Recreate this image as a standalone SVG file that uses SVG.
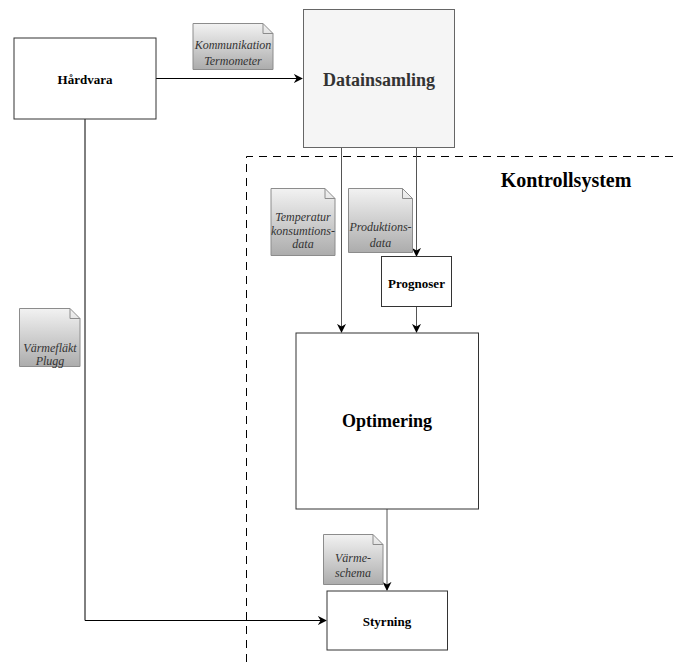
<svg xmlns="http://www.w3.org/2000/svg" width="673" height="664" viewBox="0 0 673 664">
<defs>
<linearGradient id="ng" x1="0" y1="0" x2="0" y2="1">
<stop offset="0" stop-color="#f2f2f2"/>
<stop offset="1" stop-color="#acacac"/>
</linearGradient>
<marker id="arr" viewBox="0 0 10 10" refX="9" refY="5" markerWidth="9" markerHeight="9" markerUnits="userSpaceOnUse" orient="auto">
<path d="M0,0 L10,5 L0,10 L3,5 z" fill="#000"/>
</marker>
<style>
.box{fill:#fff;stroke:#333;stroke-width:1}
.note{fill:url(#ng);stroke:#8c8c8c;stroke-width:1}
.fold{fill:none;stroke:#8c8c8c;stroke-width:1}
.lbl{font-family:"Liberation Serif","Times New Roman",serif;font-weight:bold;fill:#000;text-anchor:middle}
.nt{font-family:"Liberation Serif","Times New Roman",serif;font-style:italic;font-size:12px;fill:#333;text-anchor:middle}
.c{fill:none;stroke:#000;stroke-width:1}
.cg{fill:none;stroke:#555;stroke-width:1}
.dash{fill:none;stroke:#000;stroke-width:1;stroke-dasharray:8 6}
</style>
</defs>
<rect width="673" height="664" fill="#fff"/>
<g id="kontrollsystem">
<path class="dash" d="M673,156.5 H246.5 V664"/>
<text class="lbl" x="566" y="187" font-size="20">Kontrollsystem</text>
</g>
<g id="connectors">
<path class="c" d="M156,78.5 H302" marker-end="url(#arr)"/>
<path class="cg" d="M341.5,147 V332" marker-end="url(#arr)"/>
<path class="cg" d="M416.5,147 V256" marker-end="url(#arr)"/>
<path class="cg" d="M416.5,307 V332" marker-end="url(#arr)"/>
<path class="cg" d="M387,509 V590" marker-end="url(#arr)"/>
<path class="c" d="M85,119 V620.5 H326" marker-end="url(#arr)"/>
</g>
<g id="hardvara">
<rect class="box" x="14" y="38" width="142" height="81"/>
<text class="lbl" x="85" y="83.5" font-size="13">Hårdvara</text>
</g>
<g id="datainsamling">
<rect x="303.5" y="9.5" width="151" height="138" fill="#f5f5f5" stroke="#666"/>
<text class="lbl" x="379" y="86" font-size="18" fill="#333" style="fill:#333">Datainsamling</text>
</g>
<g id="prognoser">
<rect class="box" x="381.5" y="256.5" width="70" height="50"/>
<text class="lbl" x="416.5" y="287.5" font-size="13">Prognoser</text>
</g>
<g id="optimering">
<rect class="box" x="296" y="333" width="182.5" height="176"/>
<text class="lbl" x="387" y="427" font-size="18">Optimering</text>
</g>
<g id="styrning">
<rect class="box" x="327" y="591" width="120.5" height="59"/>
<text class="lbl" x="387" y="626" font-size="13">Styrning</text>
</g>
<g id="note-kommunikation">
<path class="note" d="M193,23.5 H263 L273,33.5 V69.5 H193 Z"/>
<path class="fold" d="M263,23.5 V33.5 H273"/>
<text class="nt" x="233" y="49">Kommunikation</text>
<text class="nt" x="233" y="65">Termometer</text>
</g>
<g id="note-temperatur">
<path class="note" d="M271,188.5 H325 L335,198.5 V255.5 H271 Z"/>
<path class="fold" d="M325,188.5 V198.5 H335"/>
<text class="nt" x="303" y="221">Temperatur</text>
<text class="nt" x="303" y="234.5">konsumtions-</text>
<text class="nt" x="303" y="248">data</text>
</g>
<g id="note-produktion">
<path class="note" d="M348.5,188.5 H402.5 L412.5,198.5 V252.5 H348.5 Z"/>
<path class="fold" d="M402.5,188.5 V198.5 H412.5"/>
<text class="nt" x="380.5" y="231">Produktions-</text>
<text class="nt" x="380.5" y="247">data</text>
</g>
<g id="note-varmeflakt">
<path class="note" d="M19.5,308.5 H70 L80,318.5 V366.5 H19.5 Z"/>
<path class="fold" d="M70,308.5 V318.5 H80"/>
<text class="nt" x="50" y="352">Värmefläkt</text>
<text class="nt" x="50" y="365">Plugg</text>
</g>
<g id="note-varmeschema">
<path class="note" d="M323.5,534.5 H373 L383,544.5 V584.5 H323.5 Z"/>
<path class="fold" d="M373,534.5 V544.5 H383"/>
<text class="nt" x="353" y="562">Värme-</text>
<text class="nt" x="353" y="576.5">schema</text>
</g>
</svg>
